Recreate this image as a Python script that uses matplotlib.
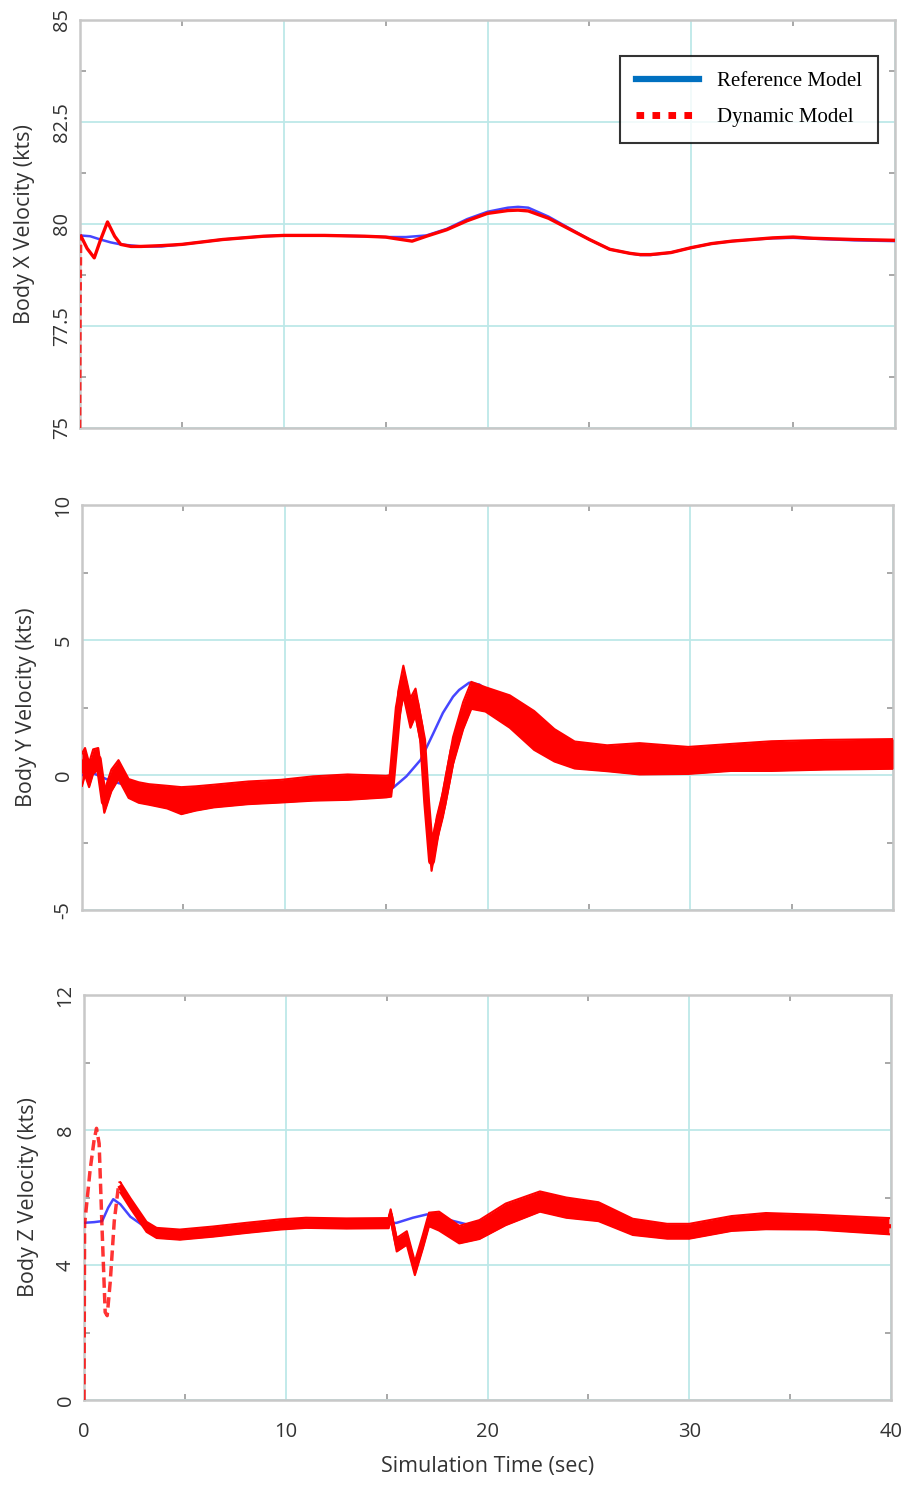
import matplotlib
matplotlib.use('Agg')
import matplotlib.pyplot as plt
from matplotlib.lines import Line2D

plt.rcParams['font.family'] = ['Open Sans', 'DejaVu Sans']

# ---------------- data ----------------
time_ticks = [0, 10, 20, 30, 40]
time_minor = [5, 15, 25, 35]

# Body X velocity
t_x_ref = [0, 0.5, 1, 1.5, 2, 3, 4, 5, 6, 7, 8, 9, 10, 12, 14, 15, 16, 17, 18, 19, 20, 21, 21.5,
           22, 23, 24, 25, 26, 27, 27.5, 28, 29, 30, 31, 32, 33, 34, 35, 36, 38, 40]
v_x_ref = [79.72, 79.70, 79.62, 79.55, 79.50, 79.45, 79.45, 79.50, 79.56, 79.62, 79.66, 79.70, 79.72,
           79.72, 79.70, 79.68, 79.68, 79.72, 79.88, 80.12, 80.30, 80.40, 80.42, 80.40, 80.18, 79.90,
           79.62, 79.38, 79.28, 79.24, 79.24, 79.30, 79.42, 79.52, 79.58, 79.62, 79.65, 79.66, 79.64,
           79.60, 79.58]
t_x_start = [0, 0.02, 0.05]
v_x_start = [75.0, 78.0, 79.7]
t_x_dyn = [0.05, 0.35, 0.7, 1.0, 1.35, 1.7, 2.0, 2.5, 3, 4, 5, 6, 7, 8, 9, 10, 12, 14, 15, 15.5, 16.3,
           17, 18, 19, 20, 21, 21.5, 22, 23, 24, 25, 26, 27, 27.5, 28, 29, 30, 31, 32, 33, 34, 35, 36,
           38, 40]
v_x_dyn = [79.7, 79.4, 79.17, 79.6, 80.05, 79.7, 79.5, 79.45, 79.45, 79.47, 79.5, 79.56, 79.62, 79.66,
           79.70, 79.72, 79.72, 79.70, 79.68, 79.64, 79.58, 79.70, 79.86, 80.08, 80.26, 80.33, 80.34,
           80.32, 80.14, 79.88, 79.62, 79.38, 79.28, 79.25, 79.25, 79.30, 79.42, 79.52, 79.58, 79.62,
           79.66, 79.68, 79.65, 79.62, 79.60]

# Body Y velocity
t_y_ref = [0, 0.6, 1.2, 1.8, 2.4, 3, 4, 5, 7, 10, 13, 15, 15.3, 16, 16.7, 17.3, 17.8, 18.3, 18.6, 19.1,
           19.6, 20.2, 21, 21.6, 22.3, 22.9, 23.5, 24.5, 26, 30, 35, 40]
v_y_ref = [0, 0.05, -0.15, -0.3, -0.4, -0.5, -0.65, -0.75, -0.75, -0.65, -0.55, -0.55, -0.5, -0.05,
           0.56, 1.5, 2.3, 2.9, 3.15, 3.42, 3.35, 3.0, 2.4, 1.7, 1.2, 0.85, 0.65, 0.55, 0.5, 0.55,
           0.65, 0.72]
t_y_dyn = [0, 0.15, 0.35, 0.55, 0.8, 1.1, 1.45, 1.8, 2.3, 2.8, 3.3, 4.2, 4.9, 5.6, 6.5, 8.2, 9.8, 11.4,
           13.1, 15.0, 15.25, 15.6, 15.85, 16.2, 16.45, 16.8, 17.0, 17.24, 17.5, 17.8, 18.3, 18.8,
           19.2, 19.9, 21.1, 22.3, 23.3, 24.3, 25.9, 27.5, 29.9, 32, 34, 36.6, 40]
v_y_dyn = [0.2, 0.5, 0.0, 0.5, 0.6, -1.0, -0.2, 0.2, -0.5, -0.65, -0.72, -0.82, -0.95, -0.87, -0.78,
           -0.66, -0.6, -0.5, -0.45, -0.43, -0.4, 2.5, 3.5, 2.3, 2.7, 1.3, -1.0, -3.2, -2.0, -1.1, 0.9,
           2.2, 2.95, 2.8, 2.35, 1.65, 1.1, 0.74, 0.62, 0.6, 0.54, 0.65, 0.7, 0.75, 0.78]
w_y_dyn = [0.6, 0.5, 0.45, 0.45, 0.4, 0.4, 0.4, 0.35, 0.35, 0.38, 0.38, 0.42, 0.5, 0.45, 0.42, 0.42,
           0.42, 0.45, 0.47, 0.4, 0.4, 0.6, 0.55, 0.55, 0.5, 0.45, 0.45, 0.35, 0.45, 0.45, 0.5, 0.5,
           0.5, 0.45, 0.6, 0.72, 0.6, 0.5, 0.48, 0.58, 0.5, 0.5, 0.55, 0.55, 0.55]

# Body Z velocity
t_z_ref = [0, 0.5, 0.9, 1.2, 1.45, 1.8, 2.3, 2.9, 3.5, 4.5, 5.5, 7, 9, 10, 13, 15, 15.5, 16.3, 17,
           18, 19, 20, 21, 22, 23, 24, 25, 26, 27, 28, 29, 30, 32, 34, 36, 38, 40]
v_z_ref = [5.25, 5.27, 5.3, 5.7, 5.95, 5.8, 5.43, 5.18, 5.0, 4.9, 4.92, 5.0, 5.15, 5.2, 5.22, 5.22,
           5.25, 5.4, 5.5, 5.35, 5.2, 5.35, 5.55, 5.72, 5.8, 5.7, 5.5, 5.3, 5.1, 5.0, 4.98, 5.0, 5.2,
           5.3, 5.28, 5.2, 5.15]
t_z_start = [0, 0.03, 0.3, 0.5, 0.62, 0.75, 0.9, 1.05, 1.15, 1.3, 1.5, 1.7, 1.8]
v_z_start = [0, 5.2, 6.8, 7.7, 8.05, 7.6, 5.0, 2.6, 2.5, 3.5, 5.3, 6.3, 6.47]
t_z_dyn = [1.8, 2.3, 3.1, 3.6, 4.75, 6.4, 8.05, 9.7, 11, 13.0, 15.1, 15.2, 15.5, 16.0, 16.4, 16.8,
           17.1, 17.6, 18.6, 19.6, 20.9, 22.6, 23.9, 25.5, 27.2, 28.9, 30, 32.1, 33.8, 36.3, 39.9]
v_z_dyn = [6.3, 5.83, 5.13, 4.95, 4.9, 4.99, 5.1, 5.2, 5.25, 5.23, 5.24, 5.5, 4.6, 4.8, 3.9, 4.7,
           5.35, 5.3, 4.9, 5.05, 5.5, 5.88, 5.7, 5.58, 5.13, 5.0, 5.0, 5.23, 5.3, 5.27, 5.15]
w_z_dyn = [0.15, 0.15, 0.15, 0.15, 0.15, 0.15, 0.15, 0.15, 0.15, 0.15, 0.15, 0.15, 0.2, 0.2, 0.2,
           0.2, 0.2, 0.28, 0.26, 0.28, 0.32, 0.3, 0.3, 0.28, 0.24, 0.22, 0.22, 0.22, 0.24, 0.22, 0.24]

legend_labels = ['Reference Model', 'Dynamic Model']

# ---------------- style ----------------
REF_C = '#4646ff'
DYN_C = '#ff0000'
GRID_C = '#bde8e8'
SPINE_C = '#c8c8c8'
TXT_C = '#333333'

W, H = 906, 1486
fig = plt.figure(figsize=(W / 100, H / 100), dpi=100)


def axes_at(l, r, t, b):
    return fig.add_axes([l / W, 1 - b / H, (r - l) / W, (b - t) / H])


def style(ax, ylim, yticks, yminor, ylabel, xlabels):
    ax.set_xlim(0, 40)
    ax.set_ylim(*ylim)
    ax.set_xticks(time_ticks)
    ax.set_xticks(time_minor, minor=True)
    ax.set_yticks(yticks)
    ax.set_yticks(yminor, minor=True)
    ax.set_yticklabels([('%g' % v) for v in yticks], rotation=90, va='center', ha='right')
    ax.grid(True, which='major', color=GRID_C, lw=1.3)
    ax.set_axisbelow(True)
    ax.tick_params(which='both', direction='in', top=True, right=True, color='#9a9a9a')
    ax.tick_params(which='major', length=0, labelsize=14.5, labelcolor=TXT_C)
    ax.tick_params(which='minor', length=4, width=1.2)
    ax.tick_params(axis='y', which='major', pad=6)
    ax.tick_params(axis='x', which='major', pad=16)
    if not xlabels:
        ax.tick_params(axis='x', labelbottom=False)
    for s in ax.spines.values():
        s.set_color(SPINE_C)
        s.set_linewidth(1.8)
    ax.set_ylabel(ylabel, fontsize=15.5, color=TXT_C, labelpad=12)


# Top panel
ax1 = axes_at(80, 895, 20, 428)
style(ax1, (75, 85), [75, 77.5, 80, 82.5, 85], [76.25, 78.75, 81.25, 83.75],
      'Body X Velocity (kts)', False)
ax1.plot(t_x_ref, v_x_ref, color=REF_C, lw=1.8, zorder=3)
ax1.plot(t_x_start, v_x_start, color=DYN_C, lw=2, ls=(0, (3, 1.5)), alpha=0.8, zorder=4)
ax1.plot(t_x_dyn, v_x_dyn, color=DYN_C, lw=2.4, zorder=4)

h_ref = Line2D([], [], color='#0070c0', lw=4.5)
h_dyn = Line2D([], [], color=DYN_C, lw=5, ls=(0, (1.1, 1.2)))
leg = ax1.legend([h_ref, h_dyn], legend_labels, loc='upper right',
                 bbox_to_anchor=(0.979, 0.912), borderaxespad=0, frameon=True, fancybox=False,
                 prop={'family': 'Liberation Serif', 'size': 15}, handlelength=3.0,
                 handletextpad=0.9, labelspacing=0.8, borderpad=0.75)
leg.get_frame().set_edgecolor('black')
leg.get_frame().set_linewidth(1.5)

# Middle panel
ax2 = axes_at(82, 893, 505, 910)
style(ax2, (-5, 10), [-5, 0, 5, 10], [-2.5, 2.5, 7.5], 'Body Y Velocity (kts)', False)
ax2.plot(t_y_ref, v_y_ref, color=REF_C, lw=1.8, zorder=3)
lo_y = [c - w for c, w in zip(v_y_dyn, w_y_dyn)]
hi_y = [c + w for c, w in zip(v_y_dyn, w_y_dyn)]
ax2.fill_between(t_y_dyn, lo_y, hi_y, color=DYN_C, lw=0, zorder=4)
ax2.plot(t_y_dyn, v_y_dyn, color=DYN_C, lw=5, zorder=4)
ax2.plot(t_y_dyn, lo_y, color=DYN_C, lw=1.5, zorder=4)
ax2.plot(t_y_dyn, hi_y, color=DYN_C, lw=1.5, zorder=4)

# Bottom panel
ax3 = axes_at(84, 891, 995, 1400)
style(ax3, (0, 12), [0, 4, 8, 12], [2, 6, 10], 'Body Z Velocity (kts)', True)
ax3.plot(t_z_ref, v_z_ref, color=REF_C, lw=1.8, zorder=3)
ax3.plot(t_z_start, v_z_start, color=DYN_C, lw=2.5, ls=(0, (3, 1.5)), alpha=0.8, zorder=4)
lo_z = [c - w for c, w in zip(v_z_dyn, w_z_dyn)]
hi_z = [c + w for c, w in zip(v_z_dyn, w_z_dyn)]
ax3.fill_between(t_z_dyn, lo_z, hi_z, color=DYN_C, lw=0, zorder=4)
ax3.plot(t_z_dyn, v_z_dyn, color=DYN_C, lw=3, zorder=4)
ax3.plot(t_z_dyn, lo_z, color=DYN_C, lw=1.5, zorder=4)
ax3.plot(t_z_dyn, hi_z, color=DYN_C, lw=1.5, zorder=4)
ax3.set_xlabel('Simulation Time (sec)', fontsize=15.5, color=TXT_C, labelpad=10)

fig.savefig('out.png', dpi=100)
